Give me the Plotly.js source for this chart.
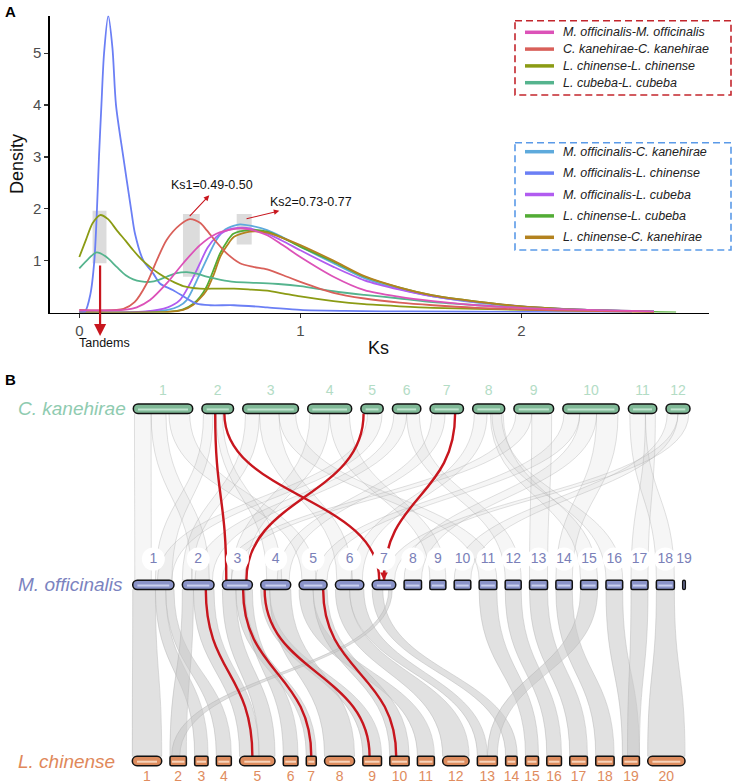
<!DOCTYPE html>
<html><head><meta charset="utf-8">
<script src="https://cdn.plot.ly/plotly-3.0.1.min.js"></script>
<style>html,body{margin:0;padding:0;background:#fff}#chart{width:733px;height:784px}</style>
</head><body><div id="chart"></div>
<script>
// ================= DATA =================
// Panel A: Ks density curves (Ks, density)
const pairNames = ["M. officinalis-M. officinalis","C. kanehirae-C. kanehirae","L. chinense-L. chinense","L. cubeba-L. cubeba",
  "M. officinalis-C. kanehirae","M. officinalis-L. chinense","M. officinalis-L. cubeba","L. chinense-L. cubeba","L. chinense-C. kanehirae"];

const ks_mo_mo   = [0,0.1,0.2,0.26,0.32,0.395,0.47,0.546,0.62,0.697,0.742,0.80,0.85,0.92,1.0,1.15,1.29,1.45,1.6,1.8,2.0,2.3,2.6];
const dens_mo_mo = [0.04,0.04,0.05,0.1,0.24,0.56,0.95,1.3,1.52,1.61,1.62,1.57,1.49,1.3,1.07,0.69,0.43,0.30,0.22,0.14,0.09,0.05,0.02];

const ks_ck_ck   = [0,0.1,0.2,0.25,0.305,0.35,0.395,0.455,0.50,0.546,0.576,0.62,0.667,0.727,0.787,0.85,0.94,1.0,1.15,1.29,1.45,1.6,1.8,2.0,2.3,2.6];
const dens_ck_ck = [0.05,0.04,0.07,0.2,0.56,1.0,1.4,1.69,1.8,1.73,1.59,1.36,1.14,0.95,0.88,0.83,0.69,0.59,0.38,0.27,0.19,0.14,0.09,0.06,0.03,0.01];

const ks_lc_lc   = [0,0.03,0.06,0.094,0.13,0.169,0.21,0.244,0.28,0.32,0.36,0.395,0.43,0.47,0.546,0.62,0.70,0.78,0.85,0.92,1.0,1.15,1.29,1.45,1.6,1.8,2.0,2.3,2.6];
const dens_lc_lc = [1.07,1.4,1.72,1.88,1.8,1.59,1.38,1.2,1.03,0.88,0.75,0.66,0.58,0.51,0.46,0.46,0.46,0.44,0.42,0.37,0.31,0.22,0.16,0.12,0.09,0.07,0.05,0.03,0.01];

const ks_lcu_lcu   = [0,0.04,0.078,0.12,0.169,0.21,0.244,0.28,0.32,0.36,0.395,0.44,0.486,0.53,0.576,0.64,0.70,0.80,0.90,1.0,1.15,1.29,1.45,1.6,1.8,2.0,2.3,2.6];
const dens_lcu_lcu = [0.85,1.03,1.16,1.08,0.88,0.72,0.64,0.60,0.59,0.63,0.69,0.76,0.78,0.75,0.69,0.63,0.59,0.57,0.55,0.51,0.41,0.34,0.27,0.20,0.14,0.09,0.05,0.02];

const ks_mo_ck   = [0,0.3,0.4,0.45,0.486,0.546,0.59,0.62,0.66,0.697,0.727,0.78,0.85,0.92,1.0,1.15,1.29,1.45,1.6,1.8,2.0,2.3,2.6];
const dens_mo_ck = [0,0.01,0.05,0.12,0.24,0.75,1.15,1.4,1.6,1.67,1.7,1.67,1.59,1.45,1.27,0.95,0.66,0.45,0.31,0.19,0.11,0.05,0.02];

const ks_mo_lc   = [0,0.026,0.05,0.068,0.08,0.089,0.10,0.112,0.131,0.15,0.166,0.199,0.234,0.252,0.29,0.335,0.365,0.425,0.486,0.531,0.591,0.70,0.85,1.0,1.2,1.5,2.0,2.5];
const dens_mo_lc = [0,0.02,0.35,1.0,2.0,3.0,4.0,5.0,5.72,5.1,4.0,3.0,2.0,1.52,1.0,0.75,0.56,0.43,0.27,0.17,0.14,0.14,0.10,0.05,0.03,0.02,0.01,0];

const ks_mo_lcu   = [0,0.3,0.4,0.455,0.50,0.546,0.58,0.62,0.66,0.697,0.757,0.80,0.85,0.92,1.0,1.15,1.29,1.45,1.6,1.8,2.0,2.3,2.6];
const dens_mo_lcu = [0,0.02,0.1,0.24,0.55,0.95,1.25,1.46,1.57,1.62,1.63,1.59,1.52,1.38,1.2,0.88,0.62,0.44,0.31,0.2,0.12,0.05,0.02];

const ks_lc_lcu   = [0,0.4,0.47,0.516,0.546,0.576,0.61,0.637,0.67,0.697,0.772,0.85,0.92,1.0,1.15,1.29,1.45,1.6,1.8,2.0,2.3,2.7];
const dens_lc_lcu = [0,0.01,0.06,0.17,0.3,0.5,0.85,1.14,1.38,1.52,1.59,1.56,1.44,1.27,0.98,0.69,0.48,0.33,0.21,0.12,0.05,0];

const ks_lc_ck   = [0,0.4,0.47,0.516,0.546,0.576,0.61,0.637,0.67,0.70,0.772,0.85,0.92,1.0,1.15,1.29,1.45,1.6,1.8,2.0,2.3,2.6];
const dens_lc_ck = [0,0.01,0.05,0.15,0.27,0.43,0.75,1.07,1.3,1.46,1.56,1.54,1.44,1.3,1.0,0.7,0.48,0.33,0.21,0.12,0.05,0.01];

const ksTicks = [0,1,2];
const densityTicks = [1,2,3,4,5];
// highlighted bands [ks0, ks1, dens0, dens1]
const tandemBand = [0.06,0.123,0.95,1.96];
const ks1Band = [0.469,0.545,0.69,1.90];
const ks2Band = [0.712,0.780,1.31,1.90];
const ks1Label = "Ks1=0.49-0.50";
const ks2Label = "Ks2=0.73-0.77";
const tandemKs = 0.094;

// Panel B: chromosome relative lengths
const ckLengths = [59.4,31.6,55.7,44,22.3,28.4,33.4,32,39.7,56.3,28.4,24];
const moLengths = [41.3,31.7,30,30,28,28.4,23.6,17.4,16,16.6,17.7,16,18,16.4,17,16.7,17,18,2.6];
const lcLengths = [29.4,16.4,13.4,15,35.4,14.7,10,30,18.7,19.3,17,26.4,20,11.6,13,14.7,17.7,18.4,17,37.3];
const ckChrLabels = ["1","2","3","4","5","6","7","8","9","10","11","12"];
const moChrLabels = ["1","2","3","4","5","6","7","8","9","10","11","12","13","14","15","16","17","18","19"];
const lcChrLabels = ["1","2","3","4","5","6","7","8","9","10","11","12","13","14","15","16","17","18","19","20"];
const speciesNames = ["C. kanehirae","M. officinalis","L. chinense"];

// syntenic blocks: [topChr, topFrom, topTo, bottomChr, bottomFrom, bottomTo] (fractions of chromosome)
const ckMoBlocks = [
 [1,0.02,0.30,1,0.05,0.45],[1,0.30,0.55,2,0.30,0.85],[1,0.60,0.95,5,0.10,0.60],
 [2,0.05,0.35,1,0.55,0.95],[2,0.45,0.65,4,0.20,0.70],
 [3,0.05,0.30,2,0.00,0.30],[3,0.30,0.65,6,0.05,0.60],[3,0.65,0.95,11,0.0,1.0],
 [4,0.05,0.50,3,0.30,0.75],[4,0.50,0.95,9,0.0,1.0],
 [5,0.30,0.95,1,0.60,0.95],
 [6,0.05,0.50,2,0.40,0.95],[6,0.50,0.95,12,0.0,1.0],
 [7,0.05,0.45,4,0.55,0.95],
 [8,0.05,0.45,6,0.55,0.95],[8,0.55,0.95,15,0.0,1.0],[8,0.60,0.90,16,0.0,1.0],
 [9,0.05,0.45,3,0.00,0.30],[9,0.45,0.95,13,0.0,1.0],
 [10,0.02,0.30,5,0.60,1.0],[10,0.30,0.60,8,0.0,1.0],[10,0.60,0.98,14,0.0,1.0],
 [11,0.05,0.60,18,0.0,1.0],[11,0.60,0.95,17,0.0,1.0],
 [12,0.05,0.50,10,0.0,1.0],[12,0.50,0.95,7,0.55,0.95]
];
const moLcBlocks = [
 [1,0.00,0.55,1,0.00,1.00],[1,0.55,0.80,3,0.00,1.00],[1,0.80,1.00,4,0.00,1.00],
 [2,0.00,0.35,2,0.00,1.00],[2,0.35,1.00,5,0.00,0.55],
 [3,0.00,0.45,5,0.55,1.00],[3,0.45,0.75,7,0.00,1.00],[3,0.75,1.00,6,0.00,1.00],
 [4,0.00,0.30,9,0.00,1.00],[4,0.30,1.00,8,0.00,1.00],
 [5,0.00,0.50,11,0.00,1.00],[5,0.50,1.00,10,0.00,1.00],
 [6,0.00,0.50,12,0.00,1.00],[6,0.50,1.00,13,0.00,0.50],
 [7,0.00,0.45,14,0.00,1.00],[7,0.70,0.85,2,0.10,0.60],
 [11,0.00,1.00,15,0.00,1.00],[12,0.00,1.00,16,0.00,1.00],[13,0.00,1.00,17,0.00,1.00],
 [14,0.00,1.00,18,0.00,1.00],[15,0.00,1.00,13,0.50,1.00],[16,0.00,1.00,19,0.00,1.00],
 [17,0.00,1.00,19,0.30,1.00],[18,0.00,1.00,20,0.00,1.00]
];
// highlighted gene pairs: [topChr, topPos, bottomChr, bottomPos]
const ckMoHighlight = [[2,0.42,3,0.13],[2,0.71,7,0.30],[5,0.12,3,0.80],[7,0.75,7,0.50]];
const moLcHighlight = [[2,0.74,5,0.36],[3,0.69,7,0.50],[4,0.13,9,0.36],[5,0.86,10,0.33]];

// ================= STYLE / LAYOUT =================
const W = 733, H = 784;
const FONT = "Liberation Sans, Arial, Helvetica, sans-serif";
const seriesColors = ["#dc52b8","#d9605a","#8b9b14","#55b48e","#5eaadc","#6b7ff5","#b15cf0","#52ac35","#b3821f"];
const seriesX = [ks_mo_mo,ks_ck_ck,ks_lc_lc,ks_lcu_lcu,ks_mo_ck,ks_mo_lc,ks_mo_lcu,ks_lc_lcu,ks_lc_ck];
const seriesY = [dens_mo_mo,dens_ck_ck,dens_lc_lc,dens_lcu_lcu,dens_mo_ck,dens_mo_lc,dens_mo_lcu,dens_lc_lcu,dens_lc_ck];

const xDom = [50/W, 709/W], yDom = [1-312.5/H, 1-15.7/H];
const xRange = [-0.1326, 2.849], yRange = [0, 5.724];
const ksToPaper = k => xDom[0] + (k - xRange[0])/(xRange[1]-xRange[0])*(xDom[1]-xDom[0]);
const px = v => v/W, py = v => 1 - v/H;

const traces = [];
const drawOrder = [4,6,7,8,5,3,2,1,0];
drawOrder.forEach(i => {
  traces.push({x: seriesX[i], y: seriesY[i], type:'scatter', mode:'lines', name: pairNames[i],
    line:{color: seriesColors[i], width:1.8, shape:'spline', smoothing:0.8}, xaxis:'x', yaxis:'y', hoverinfo:'skip', showlegend:false});
});

const shapes = [], annotations = [];
[tandemBand, ks1Band, ks2Band].forEach(b => shapes.push({type:'rect', xref:'x', yref:'y', x0:b[0], x1:b[1], y0:b[2], y1:b[3],
  fillcolor:'#dcdcdc', line:{width:0}, layer:'below'}));

// custom legends
const legendRows = [];
for (let i=0;i<4;i++) legendRows.push([i, 32.3 + i*16.8]);
for (let i=4;i<9;i++) legendRows.push([i, 151.7 + (i-4)*21.4]);
legendRows.forEach(([i,yy]) => {
  shapes.push({type:'line', xref:'paper', yref:'paper', x0:px(525), x1:px(554), y0:py(yy), y1:py(yy), line:{color:seriesColors[i], width:3.5}});
  annotations.push({xref:'paper', yref:'paper', x:px(561), y:py(yy), xanchor:'left', yanchor:'middle', showarrow:false,
    text:'<i>'+pairNames[i]+'</i>', font:{family:FONT, size:12.5, color:'#222'}});
});
shapes.push({type:'rect', xref:'paper', yref:'paper', x0:px(515), x1:px(731), y0:py(20.7), y1:py(95), line:{color:'#c3262d', width:1.6, dash:'7px,4px'}});
shapes.push({type:'rect', xref:'paper', yref:'paper', x0:px(515), x1:px(731), y0:py(142.7), y1:py(250), line:{color:'#5a9ae8', width:1.6, dash:'7px,4px'}});

// Ks annotations
const RED = '#c8161e';
const txt = (x, y, text, size, extra) => Object.assign({xref:'paper', yref:'paper', x, y, text, showarrow:false,
  xanchor:'center', yanchor:'middle', font:{family:FONT, size, color:'#111'}}, extra || {});
annotations.push({xref:'x', yref:'y', x:0.588, y:2.26, ax:0.493, ay:1.83, axref:'x', ayref:'y', text:'', showarrow:true, arrowhead:2, arrowsize:1, arrowwidth:1.1, arrowcolor:RED});
annotations.push({xref:'x', yref:'y', x:0.905, y:1.96, ax:0.75, ay:1.80, axref:'x', ayref:'y', text:'', showarrow:true, arrowhead:2, arrowsize:1, arrowwidth:1.1, arrowcolor:RED});
annotations.push({xref:'x', yref:'y', x:0.602, y:2.46, xanchor:'center', yanchor:'middle', text:ks1Label, showarrow:false, font:{family:FONT, size:12.5, color:'#111'}});
annotations.push({xref:'x', yref:'y', x:1.047, y:2.14, xanchor:'center', yanchor:'middle', text:ks2Label, showarrow:false, font:{family:FONT, size:12.5, color:'#111'}});
annotations.push({xref:'paper', yref:'paper', x:ksToPaper(tandemKs), y:py(336), ax:0, ay:-72, text:'', showarrow:true, arrowhead:2, arrowsize:1.1, arrowwidth:2.2, arrowcolor:RED});
annotations.push(txt(px(104), py(343), 'Tandems', 12.5));
annotations.push(txt(px(378), py(348), 'Ks', 18));
annotations.push(txt(px(17), py(164), 'Density', 18, {textangle:-90}));
annotations.push(txt(px(3), py(11), '<b>A</b>', 15, {xanchor:'left', font:{family:FONT, size:15, color:'#000'}}));
annotations.push(txt(px(3), py(379), '<b>B</b>', 15, {xanchor:'left', font:{family:FONT, size:15, color:'#000'}}));

// ---- Panel B geometry ----
const PXU = 176.15;                 // px per row unit
const rowY = [2, 1, 0];             // Ck, Mo, Lc
const hy = 4.7/PXU;                 // half height of rods
function layoutRow(lengths, x0, x1){
  const sum = lengths.reduce((a,b)=>a+b,0);
  const gap = (x1 - x0 - sum)/(lengths.length-1);
  const out = []; let c = x0;
  lengths.forEach(l => { out.push([c, c+l]); c += l + gap; });
  return out;
}
const ckPos = layoutRow(ckLengths, 133.3, 690);
const moPos = layoutRow(moLengths, 132.7, 685.3);
const lcPos = layoutRow(lcLengths, 132.3, 685);
const rows = [ckPos, moPos, lcPos];
const f = v => v.toFixed(4);
const at = (pos, chr, frac) => pos[chr-1][0] + frac*(pos[chr-1][1]-pos[chr-1][0]);

function ribbon(topRow, block, fill, lineCol){
  const tp = rows[topRow], bp = rows[topRow+1];
  const yT = rowY[topRow] - hy, yB = rowY[topRow+1] + hy, ym = (yT+yB)/2;
  const a0 = at(tp, block[0], block[1]), a1 = at(tp, block[0], block[2]);
  const b0 = at(bp, block[3], block[4]), b1 = at(bp, block[3], block[5]);
  const path = `M${f(a0)},${f(yT)} C${f(a0)},${f(ym)} ${f(b0)},${f(ym)} ${f(b0)},${f(yB)} L${f(b1)},${f(yB)} C${f(b1)},${f(ym)} ${f(a1)},${f(ym)} ${f(a1)},${f(yT)} Z`;
  shapes.push({type:'path', xref:'x2', yref:'y2', path, fillcolor:fill, line:{color:lineCol, width:0.6}, layer:'below'});
}
ckMoBlocks.forEach(b => ribbon(0, b, 'rgba(185,185,185,0.13)', 'rgba(170,170,170,0.6)'));
moLcBlocks.forEach(b => ribbon(1, b, 'rgba(200,200,200,0.55)', 'rgba(180,180,180,0.75)'));

function redLink(topRow, link){
  const tp = rows[topRow], bp = rows[topRow+1];
  const yT = rowY[topRow] - hy, yB = rowY[topRow+1] + hy, ym = (yT+yB)/2;
  const a = at(tp, link[0], link[1]), b = at(bp, link[2], link[3]);
  shapes.push({type:'path', xref:'x2', yref:'y2', path:`M${f(a)},${f(yT)} C${f(a)},${f(ym)} ${f(b)},${f(ym)} ${f(b)},${f(yB)}`,
    fillcolor:'rgba(0,0,0,0)', line:{color:RED, width:2.4}, layer:'below'});
}
ckMoHighlight.forEach(l => redLink(0, l));
moLcHighlight.forEach(l => redLink(1, l));

// rods
const K = 0.5523;
function rod(x0, x1, yc, c, fill, stripe){
  c = Math.min(c, (x1-x0)/2);
  const cy = c/PXU, yb = yc-hy, yt = yc+hy;
  const p = `M${f(x0+c)},${f(yb)} L${f(x1-c)},${f(yb)} C${f(x1-c+K*c)},${f(yb)} ${f(x1)},${f(yb+cy-K*cy)} ${f(x1)},${f(yb+cy)} `+
    `L${f(x1)},${f(yt-cy)} C${f(x1)},${f(yt-cy+K*cy)} ${f(x1-c+K*c)},${f(yt)} ${f(x1-c)},${f(yt)} `+
    `L${f(x0+c)},${f(yt)} C${f(x0+c-K*c)},${f(yt)} ${f(x0)},${f(yt-cy+K*cy)} ${f(x0)},${f(yt-cy)} `+
    `L${f(x0)},${f(yb+cy)} C${f(x0)},${f(yb+cy-K*cy)} ${f(x0+c-K*c)},${f(yb)} ${f(x0+c)},${f(yb)} Z`;
  shapes.push({type:'path', xref:'x2', yref:'y2', path:p, fillcolor:fill, line:{color:'#111', width:1.5}, layer:'above'});
  if (x1 - x0 > 6) shapes.push({type:'line', xref:'x2', yref:'y2', x0:x0+Math.max(c,2), x1:x1-Math.max(c,2), y0:yc-0.15*hy, y1:yc-0.15*hy,
    line:{color:stripe, width:2}, layer:'above'});
}
const pillMo = [1,2,3,4,5,6,7];
const pillLc = [1,5,8,12,20];
ckPos.forEach(p => rod(p[0], p[1], rowY[0], 4.7, '#7fb896', '#bfe2cd'));
moPos.forEach((p,i) => rod(p[0], p[1], rowY[1], pillMo.includes(i+1)?4.7:1.5, '#8a93c8', '#c9cfee'));
lcPos.forEach((p,i) => rod(p[0], p[1], rowY[2], pillLc.includes(i+1)?4.7:1.5, '#dd8c5e', '#f7d4bb'));

// chromosome labels
const centers = pos => pos.map(p => (p[0]+p[1])/2);
traces.push({x:centers(ckPos), y:ckPos.map(()=> (761-391.7)/PXU), text:ckChrLabels, type:'scatter', mode:'text', xaxis:'x2', yaxis:'y2',
  textfont:{family:FONT, size:14, color:'#b3dcc5'}, hoverinfo:'skip', showlegend:false, cliponaxis:false});
traces.push({x:centers(moPos), y:moPos.map(()=> (761-559)/PXU), text:moChrLabels, type:'scatter', mode:'markers+text', xaxis:'x2', yaxis:'y2',
  marker:{size:23, color:'#ffffff', line:{width:0}}, textposition:'middle center',
  textfont:{family:FONT, size:14, color:'#7a80b8'}, hoverinfo:'skip', showlegend:false, cliponaxis:false});
traces.push({x:centers(lcPos), y:lcPos.map(()=> (761-777.3)/PXU), text:lcChrLabels, type:'scatter', mode:'text', xaxis:'x2', yaxis:'y2',
  textfont:{family:FONT, size:14, color:'#e08c5e'}, hoverinfo:'skip', showlegend:false, cliponaxis:false});

// species labels
const spColors = ['#8fcbb0','#7b83c0','#e0885a'];
speciesNames.forEach((s,i) => annotations.push({xref:'x2', yref:'y2', x:16, y:rowY[i], xanchor:'left', yanchor:'middle', showarrow:false,
  text:'<i>'+s+'</i>', font:{family:FONT, size:19, color:spColors[i]}}));

// arrow at M. officinalis chr7
annotations.push({xref:'x2', yref:'y2', x:at(moPos, 7, 0.5), y:rowY[1]+hy, ax:0, ay:-11, text:'', showarrow:true,
  arrowhead:2, arrowsize:0.7, arrowwidth:2.2, arrowcolor:RED});

const layout = {
  width:W, height:H, margin:{l:0,r:0,t:0,b:0}, paper_bgcolor:'#fff', plot_bgcolor:'rgba(0,0,0,0)', showlegend:false,
  font:{family:FONT},
  xaxis:{domain:xDom, range:xRange, anchor:'y', showgrid:false, zeroline:false, showline:true, linecolor:'#000', linewidth:1.6,
    tickmode:'array', tickvals:ksTicks, ticktext:ksTicks.map(String), ticks:'outside', ticklen:4, tickwidth:1.2, tickcolor:'#333',
    tickfont:{family:FONT, size:15, color:'#4d4d4d'}, fixedrange:true},
  yaxis:{domain:yDom, range:yRange, anchor:'x', showgrid:false, zeroline:false, showline:true, linecolor:'#000', linewidth:1.6,
    tickmode:'array', tickvals:densityTicks, ticktext:densityTicks.map(String), ticks:'outside', ticklen:4, tickwidth:1.2, tickcolor:'#333',
    tickfont:{family:FONT, size:15, color:'#4d4d4d'}, fixedrange:true},
  xaxis2:{domain:[0,1], range:[0,W], anchor:'y2', visible:false, fixedrange:true},
  yaxis2:{domain:[0,1], range:[-(784-761)/PXU, 761/PXU], anchor:'x2', visible:false, fixedrange:true},
  shapes, annotations
};
Plotly.newPlot('chart', traces, layout, {staticPlot:true, displayModeBar:false});
</script></body></html>
